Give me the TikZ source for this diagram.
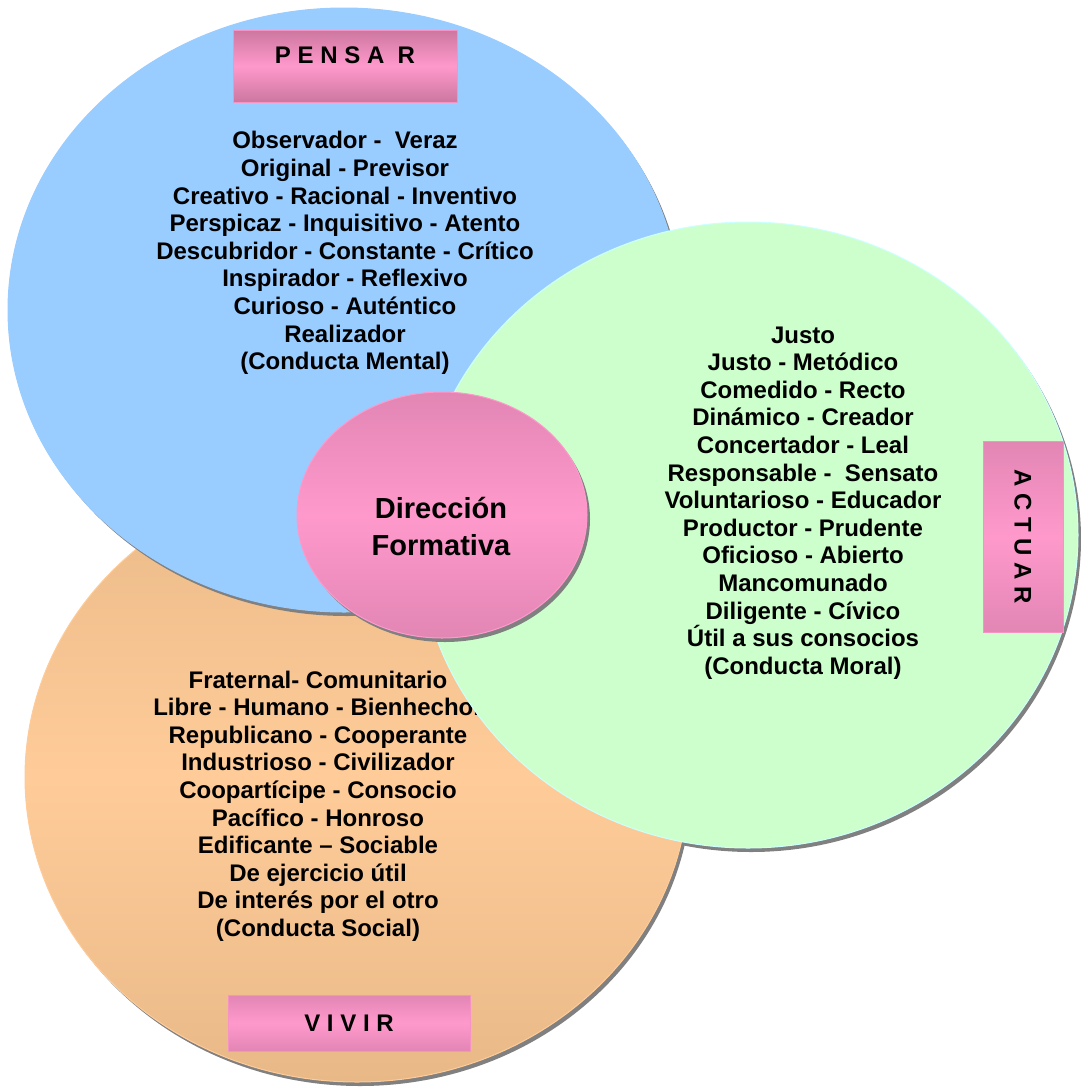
\documentclass[tikz,border=0pt]{standalone}
\usepackage{fontspec}
\setmainfont{Liberation Sans}
\usepackage{xcolor}
\usetikzlibrary{shapes.geometric,shadows}

\definecolor{pensarblue}{HTML}{99CCFF}
\definecolor{actuargreen}{HTML}{CCFFCC}
\definecolor{actuaredge}{HTML}{CCFFFF}
\definecolor{vivirpeach}{HTML}{FFCC99}
\definecolor{vivirtan}{HTML}{E8B987}
\definecolor{rosa}{HTML}{FF99CC}
\definecolor{rosadark}{HTML}{E286B4}
\definecolor{rosadeep}{HTML}{CC779F}

\begin{document}
\begin{tikzpicture}[
    x=1pt, y=-1pt,
    font=\bfseries\fontsize{24}{27.6}\selectfont,
    petal/.style={ellipse, inner sep=0pt, outer sep=0pt, line width=1pt},
    sombra/.style={drop shadow={shadow xshift=3pt, shadow yshift=-4pt,
                   fill=black!50, opacity=1}},
    spensar/.style={petal, sombra, fill=pensarblue, draw=pensarblue},
    sactuar/.style={petal, fill=actuargreen, draw=actuaredge},
    svivir/.style={petal, sombra, draw=vivirpeach, top color=vivirtan,
                   bottom color=vivirtan, middle color=vivirpeach},
    core/.style={petal, sombra, draw=rosa, top color=rosadark,
                 bottom color=rosadark, middle color=rosa},
    trait/.style={align=center, inner sep=0pt},
    tag/.style={draw=rosa!70!rosadark, line width=0.8pt, top color=#1,
                bottom color=#1, middle color=rosa, inner sep=0pt},
    ]
\useasboundingbox (0,0) rectangle (1080,1088);

% shadow of the green one sits behind everything
\node[petal, fill=black!50, minimum width=660pt, minimum height=626pt] (actuarsh) at (751,539) {};

% VIVIR
\node[svivir, minimum width=664pt, minimum height=610pt] (vivir) at (357,777) {};
\node[trait] (vivirtxt) at (318,806) {Fraternal- Comunitario\\
    Libre - Humano - Bienhechor\\ Republicano - Cooperante\\
    Industrioso - Civilizador\\ Coopartícipe - Consocio\\
    Pacífico - Honroso\\ Edificante – Sociable\\ De ejercicio útil\\
    De interés por el otro\\ (Conducta Social)};

% PENSAR
\node[spensar, minimum width=672pt, minimum height=604pt] (pensar) at (344,310) {};
\node[trait] (pensartxt) at (345,253) {Observador - \ Veraz\\ Original - Previsor\\
    Creativo - Racional - Inventivo\\ Perspicaz - Inquisitivo - Atento\\
    Descubridor - Constante - Crítico\\ Inspirador - Reflexivo\\
    Curioso - Auténtico\\ Realizador\\ (Conducta Mental)};

% ACTUAR
\node[sactuar, minimum width=660pt, minimum height=626pt] (actuar) at (748,535) {};
\node[trait] (actuartxt) at (803,503) {Justo\\ Justo - Metódico\\ Comedido - Recto\\
    Dinámico - Creador\\ Concertador - Leal\\ Responsable - \ Sensato\\
    Voluntarioso - Educador\\ Productor - Prudente\\ Oficioso - Abierto\\
    Mancomunado\\ Diligente - Cívico\\ Útil a sus consocios\\ (Conducta Moral)};

% centre
\node[core, minimum width=290pt, minimum height=246pt] (centro) at (442,515) {};
\node[trait, font=\bfseries\fontsize{29}{37}\selectfont] (centrotxt) at (441,526)
     {Dirección\\Formativa};

% tags
\node[tag=rosadeep, minimum width=224pt, minimum height=72pt, text depth=22pt]
     (pensartag) at (345,66) {P E N S A\ \ R};
\node[tag=rosadark, minimum width=80pt, minimum height=191pt]
     (actuartag) at (1023,536.5) {\rotatebox{-90}{A C T U A R}};
\node[tag=rosadark, minimum width=242pt, minimum height=56pt]
     (vivirtag) at (349,1023) {V I V I R};
\end{tikzpicture}
\end{document}
